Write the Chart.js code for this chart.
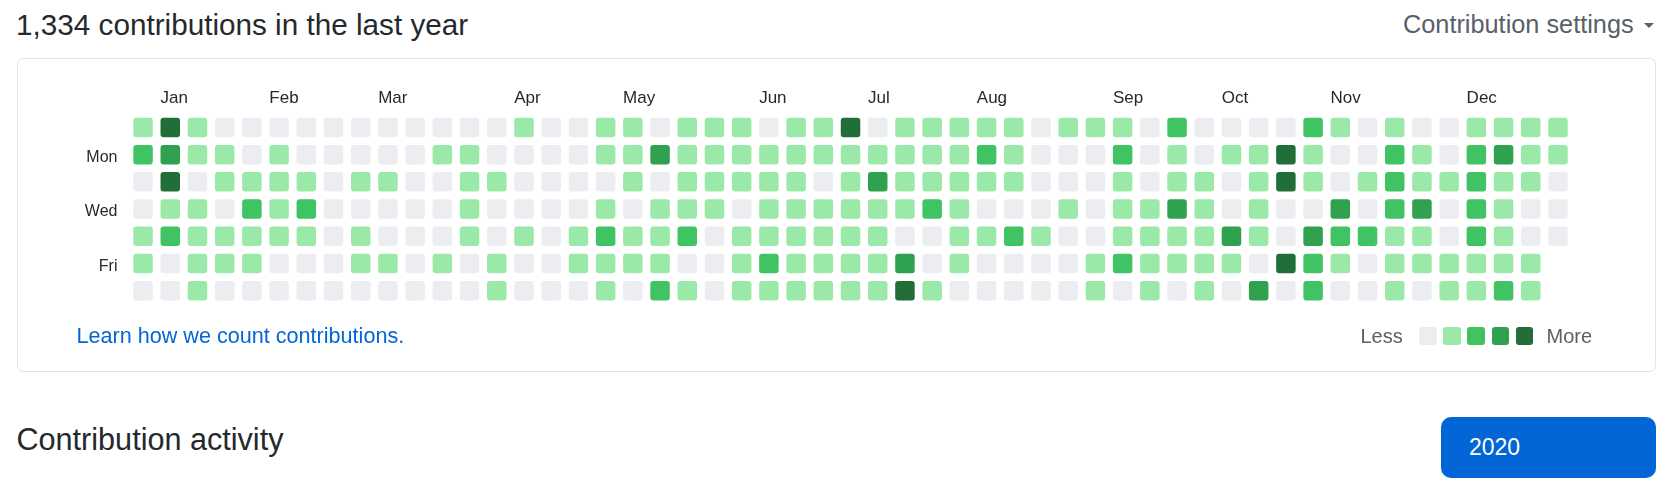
<!DOCTYPE html>
<html>
<head>
<meta charset="utf-8">
<script src="https://cdn.jsdelivr.net/npm/chart.js@4/dist/chart.umd.min.js"></script>
<style>
html,body{margin:0;padding:0;background:#fff;width:1667px;height:491px;overflow:hidden;font-family:"Liberation Sans",Arial,sans-serif;}
.t{position:absolute;line-height:1;white-space:nowrap;}
#box{position:absolute;left:17px;top:58px;width:1639px;height:314px;box-sizing:border-box;border:1px solid #e1e4e8;border-radius:6px;}
#wrap{position:absolute;left:0;top:0;width:1667px;height:340px;}
.sq{position:absolute;top:327px;width:17.5px;height:17.5px;border-radius:3px;}
#caret{position:absolute;left:1644px;top:22.5px;width:0;height:0;border-left:5.5px solid transparent;border-right:5.5px solid transparent;border-top:5.5px solid #586069;}
#btn{position:absolute;left:1441px;top:417px;width:215px;height:61px;border-radius:10px;background:#0366d6;}
</style>
</head>
<body>
<div class="t" style="left:16px;top:9.5px;font-size:29.7px;color:#24292e;">1,334 contributions in the last year</div>
<div class="t" style="left:1403px;top:12px;font-size:25.3px;color:#586069;">Contribution settings</div>
<div id="caret"></div>
<div id="box"></div>
<div id="wrap"><canvas id="c" width="1667" height="340" style="width:1667px;height:340px;"></canvas></div>
<div class="t" style="left:76.5px;top:325px;font-size:21.6px;color:#0366d6;">Learn how we count contributions.</div>
<div class="t" id="less" style="left:1360.5px;top:326px;font-size:20px;color:#586069;">Less</div>
<div id="legend"></div>
<div class="t" id="more" style="left:1546.5px;top:326px;font-size:20px;color:#586069;">More</div>
<div class="t" style="left:16.5px;top:423.5px;font-size:30.6px;color:#24292e;">Contribution activity</div>
<div id="btn"></div>
<div class="t" style="left:1469px;top:435.5px;font-size:23px;color:#ffffff;">2020</div>
<script>
// ---- data ----
const levelColors = ['#ebedf0', '#9be9a8', '#40c463', '#30a14e', '#216e39'];
const weekLabels = [1,2,3,4,5,6,7,8,9,10,11,12,13,14,15,16,17,18,19,20,21,22,23,24,25,26,27,28,29,30,31,32,33,34,35,36,37,38,39,40,41,42,43,44,45,46,47,48,49,50,51,52,53];
const monthLabels = ['Jan','Feb','Mar','Apr','May','Jun','Jul','Aug','Sep','Oct','Nov','Dec'];
const monthStartWeeks = [1, 5, 9, 14, 18, 23, 27, 31, 36, 40, 44, 49];
const dayNames = ['Sun','Mon','Tue','Wed','Thu','Fri','Sat'];
const dayTickValues = [1, 3, 5];
const dayTickLabels = ['Mon', 'Wed', 'Fri'];
const legendLevels = [0, 1, 2, 3, 4];

// contribution level (0-4) per week, one array per weekday
const sun = [1,4,1,0,0,0,0,0,0,0,0,0,0,0,1,0,0,1,1,0,1,1,1,0,1,1,4,0,1,1,1,1,1,0,1,1,1,0,2,0,0,0,0,2,1,0,1,0,0,1,1,1,1];
const mon = [2,3,1,1,0,1,0,0,0,0,0,1,1,0,0,0,0,1,1,3,1,1,1,1,1,1,1,1,1,1,1,2,1,0,0,0,2,0,1,0,1,1,4,1,0,0,2,1,0,2,3,1,1];
const tue = [0,4,0,1,1,1,1,0,1,1,0,0,1,1,0,0,0,0,1,0,1,1,1,1,1,0,1,3,1,1,1,1,1,0,0,0,1,0,1,1,0,1,4,1,0,1,2,1,1,2,1,1,0];
const wed = [0,1,1,0,2,1,2,0,0,0,0,0,1,0,0,0,0,1,0,1,1,1,0,1,1,1,1,1,1,2,1,0,0,0,1,0,1,1,3,1,0,1,0,0,3,0,2,3,0,2,1,0,0];
const thu = [1,2,1,1,1,1,1,0,1,0,0,0,1,0,1,0,1,2,1,1,2,0,1,1,1,1,1,1,0,0,1,1,2,1,0,0,1,1,1,1,3,1,0,3,2,2,1,1,0,2,1,0,0];
const fri = [1,0,1,1,1,0,0,0,1,1,0,1,0,1,0,0,1,1,1,1,0,0,1,2,1,1,1,1,3,0,1,0,0,0,0,1,2,1,1,1,1,0,4,2,1,0,1,1,1,1,1,1,null];
const sat = [0,0,1,0,0,0,0,0,0,0,0,0,0,1,0,0,0,1,0,2,1,0,1,1,1,1,1,1,4,1,0,0,0,0,0,1,0,1,0,1,0,3,0,2,0,0,1,0,1,1,2,1,null];
const days = [sun, mon, tue, wed, thu, fri, sat];

// ---- legend squares (HTML) ----
const legendX = [1419, 1443.2, 1467.4, 1491.6, 1515.8];
const lg = document.getElementById('legend');
legendLevels.forEach((lv, i) => {
  const d = document.createElement('div');
  d.className = 'sq';
  d.style.left = legendX[i] + 'px';
  d.style.background = levelColors[lv];
  lg.appendChild(d);
});

// ---- chart ----
Chart.defaults.font.family = '"Liberation Sans", Arial, sans-serif';
const HALF = 0.3583; // half cell height in row units

const datasets = days.map((levels, r) => ({
  label: dayNames[r],
  data: levels.map(l => (l === null ? null : [r - HALF, r + HALF])),
  backgroundColor: levels.map(l => (l === null ? 'rgba(0,0,0,0)' : levelColors[l])),
  borderWidth: 0,
  borderRadius: 3,
  borderSkipped: false,
  grouped: false,
  barPercentage: 0.7166,
  categoryPercentage: 1.0
}));

new Chart(document.getElementById('c'), {
  type: 'bar',
  data: { labels: weekLabels, datasets },
  options: {
    responsive: false,
    animation: false,
    events: [],
    layout: { padding: { left: 69.45, right: 95.4, top: 73.85, bottom: 35.7 } },
    plugins: { legend: { display: false }, tooltip: { enabled: false } },
    scales: {
      x: {
        type: 'category',
        position: 'top',
        offset: true,
        grid: { display: false, drawTicks: false },
        border: { display: false },
        ticks: {
          autoSkip: false, maxRotation: 0, minRotation: 0,
          align: 'start', labelOffset: -9.75, padding: 5,
          color: '#24292e', font: { size: 17 },
          callback: (v, i) => { const k = monthStartWeeks.indexOf(i); return k >= 0 ? monthLabels[k] : ''; }
        },
        afterFit: s => { s.height = 40; }
      },
      y: {
        type: 'linear',
        min: -0.5, max: 6.5, reverse: true,
        grid: { display: false, drawTicks: false },
        border: { display: false },
        afterBuildTicks: s => { s.ticks = dayTickValues.map(v => ({ value: v })); },
        ticks: {
          autoSkip: false, padding: 12, labelOffset: 3,
          color: '#24292e', font: { size: 16 },
          callback: v => { const k = dayTickValues.indexOf(v); return k >= 0 ? dayTickLabels[k] : ''; }
        },
        afterFit: s => { s.width = 60; }
      }
    }
  }
});
</script>
</body>
</html>
